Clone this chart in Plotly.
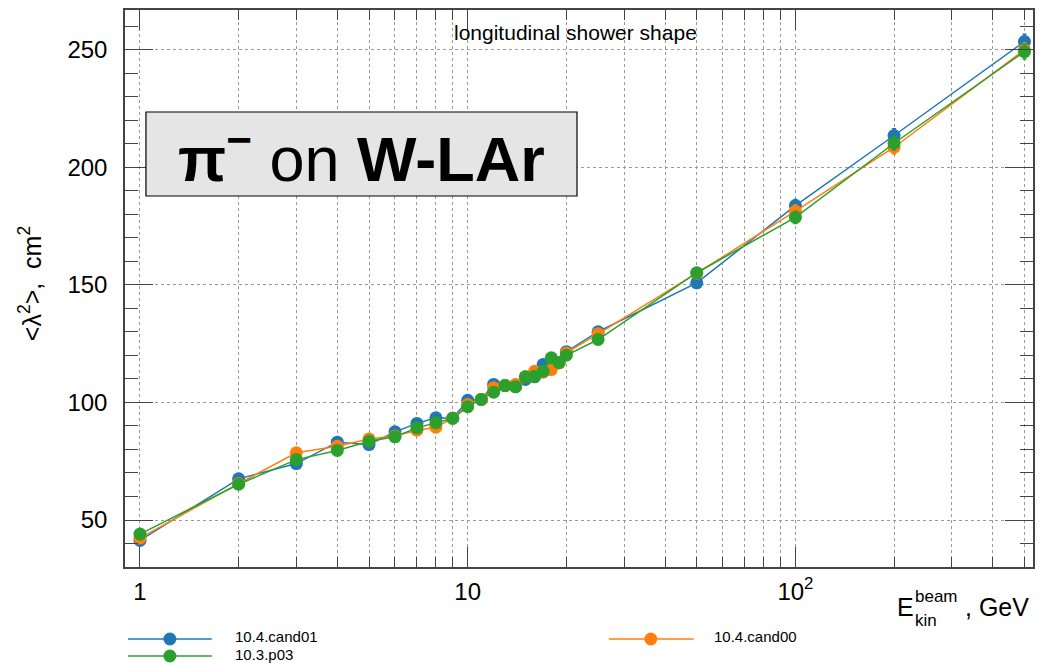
import plotly.graph_objects as go

# ---------------- data ----------------
energy = [1, 2, 3, 4, 5, 6, 7, 8, 9, 10, 11, 12, 13, 14, 15, 16, 17, 18, 19, 20, 25, 50, 100, 200, 500]

cand01 = [41.3, 67.5, 74.0, 83.1, 82.1, 87.5, 91.1, 93.5, 93.3, 100.9, 101.3, 107.7, 107.2, 106.7,
          109.8, 110.9, 116.2, 118.6, 116.9, 121.6, 130.1, 150.9, 183.8, 213.6, 253.6]
cand00 = [42.3, 65.5, 78.6, 81.4, 84.5, 85.7, 88.2, 89.5, 93.3, 99.1, 101.3, 106.3, 107.2, 107.7,
          110.9, 113.3, 112.9, 114.0, 116.9, 121.1, 129.2, 155.0, 181.4, 208.6, 250.0]
p03 = [44.0, 65.2, 75.7, 79.6, 83.5, 85.4, 89.2, 91.4, 93.3, 98.2, 101.3, 104.4, 107.2, 106.7,
       110.9, 111.2, 113.3, 119.0, 116.9, 120.1, 126.8, 155.2, 178.8, 210.3, 249.3]

err = [0.6, 0.6, 0.6, 0.6, 0.6, 0.6, 0.6, 0.6, 0.6, 0.7, 0.7, 0.7, 0.7, 0.7,
       0.7, 0.7, 0.7, 0.7, 0.7, 0.8, 0.9, 1.5, 2.6, 2.9, 3.1]

series_names = ["10.4.cand01", "10.4.cand00", "10.3.p03"]
series_values = [cand01, cand00, p03]
series_colors = ["#1f77b4", "#ff7f0e", "#2ca02c"]

x_tickvals = [1, 10, 100]
x_ticktext = ["1", "10", "10<sup>2</sup>"]
x_minor = [2, 3, 4, 5, 6, 7, 8, 9, 20, 30, 40, 50, 60, 70, 80, 90, 200, 300, 400, 500]

# ---------------- layout helpers ----------------
W, H = 1039, 663
L, R, T, B = 125, 1035, 10, 567
FONT = "Liberation Sans, Arial, Helvetica, sans-serif"


def px(xp):
    return (xp - L) / (R - L)


def py(yp):
    return (B - yp) / (B - T)


fig = go.Figure()
for name, vals, col in zip(series_names, series_values, series_colors):
    fig.add_trace(go.Scatter(
        x=energy, y=vals, name=name, mode="lines+markers",
        line=dict(color=col, width=1.5),
        marker=dict(color=col, size=13),
        error_y=dict(type="data", array=err, color=col, thickness=1.5, width=2),
        showlegend=False,
    ))

grid_col = "#9a9a9a"
fig.update_xaxes(
    type="log", range=[-0.0457, 2.725],
    tickmode="array", tickvals=x_tickvals, ticktext=x_ticktext,
    ticks="inside", ticklen=20, tickcolor="#444", tickwidth=1,
    showgrid=True, gridcolor=grid_col, griddash="dot", gridwidth=1,
    minor=dict(tickmode="array", tickvals=x_minor, ticks="inside", ticklen=10,
               tickcolor="#444", showgrid=True, gridcolor=grid_col, griddash="dot", gridwidth=1),
    showline=True, linecolor="#444", linewidth=1.5, mirror="allticks",
    tickfont=dict(family=FONT, size=24, color="black"), ticklabelstandoff=2,
    zeroline=False,
)
fig.update_yaxes(
    range=[30, 267], tickmode="linear", tick0=0, dtick=50,
    ticks="inside", ticklen=28, tickcolor="#444", tickwidth=1,
    showgrid=True, gridcolor=grid_col, griddash="dot", gridwidth=1,
    minor=dict(dtick=10, tick0=0, ticks="inside", ticklen=13, tickcolor="#444", showgrid=False),
    showline=True, linecolor="#444", linewidth=1.5, mirror="allticks",
    tickfont=dict(family=FONT, size=24, color="black"), ticklabelstandoff=11,
    zeroline=False,
)

shapes = []
annotations = []

# label box
shapes.append(dict(type="rect", xref="paper", yref="paper",
                   x0=px(146), x1=px(578), y0=py(196), y1=py(112),
                   fillcolor="#e5e5e5", line=dict(color="black", width=1.2), layer="above"))
annotations.append(dict(xref="paper", yref="paper", x=px(362), y=py(154),
                        xanchor="center", yanchor="middle", showarrow=False,
                        text="<b>π</b><sup><b>−</b></sup> on <b>W-LAr</b>",
                        font=dict(family=FONT, size=63, color="black")))

# subtitle
annotations.append(dict(xref="paper", yref="paper", x=px(576), y=py(33),
                        xanchor="center", yanchor="middle", showarrow=False,
                        text="longitudinal shower shape",
                        font=dict(family=FONT, size=21, color="black")))

# y title
annotations.append(dict(xref="paper", yref="paper", x=px(30), y=py(284),
                        xanchor="center", yanchor="middle", showarrow=False, textangle=-90,
                        text="&lt;λ<sup>2</sup>&gt;,  cm<sup>2</sup>",
                        font=dict(family=FONT, size=25, color="black")))

# x title (E^beam_kin, GeV)
annotations += [
    dict(xref="paper", yref="paper", x=px(897), y=py(607), xanchor="left", yanchor="middle",
         showarrow=False, text="E", font=dict(family=FONT, size=25, color="black")),
    dict(xref="paper", yref="paper", x=px(915), y=py(596), xanchor="left", yanchor="middle",
         showarrow=False, text="beam", font=dict(family=FONT, size=17, color="black")),
    dict(xref="paper", yref="paper", x=px(915), y=py(620), xanchor="left", yanchor="middle",
         showarrow=False, text="kin", font=dict(family=FONT, size=17, color="black")),
    dict(xref="paper", yref="paper", x=px(965), y=py(607), xanchor="left", yanchor="middle",
         showarrow=False, text=", GeV", font=dict(family=FONT, size=25, color="black")),
]

# custom legend
legend_items = [
    (series_names[0], series_colors[0], 128, 212, 170, 234, 639, 636.5, 15),
    (series_names[1], series_colors[1], 610, 695, 652, 714, 639, 636.5, 15),
    (series_names[2], series_colors[2], 128, 212, 170, 234, 656, 654.5, 15),
]
for name, col, lx0, lx1, mx, tx, ly, ty, fs in legend_items:
    shapes.append(dict(type="line", xref="paper", yref="paper", x0=px(lx0), x1=px(lx1),
                       y0=py(ly), y1=py(ly), line=dict(color=col, width=1.5)))
    shapes.append(dict(type="circle", xref="paper", yref="paper",
                       xsizemode="pixel", ysizemode="pixel",
                       xanchor=px(mx), yanchor=py(ly), x0=-6.5, x1=6.5, y0=-6.5, y1=6.5,
                       fillcolor=col, line=dict(color=col, width=0)))
    annotations.append(dict(xref="paper", yref="paper", x=px(tx), y=py(ty),
                            xanchor="left", yanchor="middle", showarrow=False, text=name,
                            borderpad=0,
                            font=dict(family=FONT, size=fs, color="black")))

fig.update_layout(
    width=W, height=H,
    margin=dict(l=L, r=W - R, t=T, b=H - B),
    paper_bgcolor="white", plot_bgcolor="white",
    font=dict(family=FONT, color="black"),
    shapes=shapes, annotations=annotations,
    showlegend=False,
)

fig.write_html("out.html")
